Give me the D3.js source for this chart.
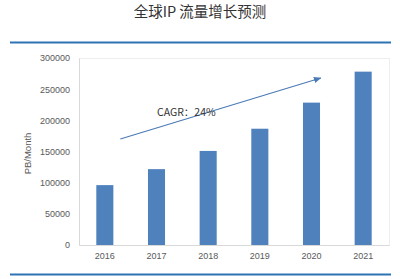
<!DOCTYPE html>
<html><head><meta charset="utf-8">
<script src="https://cdn.jsdelivr.net/npm/d3@7/dist/d3.min.js"></script>
<style>html,body{margin:0;padding:0;background:#fff;}svg{display:block;}</style>
</head><body>
<svg id="c" width="400" height="279"></svg>
<script>
const years = ["2016","2017","2018","2019","2020","2021"];
const traffic = [96054,121694,150910,186550,228411,278108];
const yTicks = [0,50000,100000,150000,200000,250000,300000];
const title = "全球IP 流量增长预测";
const yTitle = "PB/Month";
const cagrLabel = "CAGR：24%";
const arrowFrom = [0.8,170000];
const arrowTo = [4.68,268000];

const svg = d3.select("#c");
const L = 79, R = 389, T = 58, B = 245;
const x = d3.scaleBand().domain(years).range([L,R]).paddingInner(0.67).paddingOuter(0.335);
const xc = d3.scaleLinear().domain([0,years.length]).range([L,R]);
const y = d3.scaleLinear().domain([0,300000]).range([B,T]);

const font = "'Liberation Sans', Arial, sans-serif";

svg.append("text").attr("x",200).attr("y",17).attr("text-anchor","middle")
  .attr("font-family","'Noto Sans CJK SC', sans-serif").attr("font-size",14.5).attr("fill","#333")
  .text(title);

svg.append("line").attr("x1",10).attr("x2",391).attr("y1",42.5).attr("y2",42.5)
  .attr("stroke","#2e74b5").attr("stroke-width",2);
svg.append("line").attr("x1",10).attr("x2",391).attr("y1",274.5).attr("y2",274.5)
  .attr("stroke","#2e74b5").attr("stroke-width",2);

// plot border
svg.append("rect").attr("x",L+0.5).attr("y",T+0.5).attr("width",R-L).attr("height",B-T)
  .attr("fill","none").attr("stroke","#eeeeee");

// y axis
const ya = svg.append("g").attr("transform",`translate(${L},0)`)
  .call(d3.axisLeft(y).tickValues(yTicks).tickSize(0).tickPadding(9).tickFormat(d3.format("d")));
ya.select(".domain").attr("stroke","#d9d9d9");
ya.selectAll("text").attr("font-family",font).attr("font-size",9).attr("fill","#595959");

// x axis
const xa = svg.append("g").attr("transform",`translate(0,${B})`)
  .call(d3.axisBottom(x).tickSize(0).tickPadding(8));
xa.select(".domain").attr("stroke","#d9d9d9");
xa.selectAll("text").attr("font-family",font).attr("font-size",9).attr("fill","#595959");

// bars
svg.selectAll("rect.bar").data(years).enter().append("rect").attr("class","bar")
  .attr("x",d=>x(d)).attr("width",x.bandwidth())
  .attr("y",(d,i)=>y(traffic[i])).attr("height",(d,i)=>B-y(traffic[i]))
  .attr("fill","#4f81bd");

// y title
svg.append("text").attr("transform",`translate(31,${(T+B)/2+2}) rotate(-90)`)
  .attr("text-anchor","middle").attr("font-family",font).attr("font-size",9.5).attr("fill","#595959")
  .text(yTitle);

// arrow
const defs = svg.append("defs");
defs.append("marker").attr("id","ah").attr("viewBox","0 0 10 10").attr("refX",9).attr("refY",5)
  .attr("markerWidth",7).attr("markerHeight",7).attr("orient","auto")
  .append("path").attr("d","M0,1 L10,5 L0,9 Z").attr("fill","#4a7ab5");
svg.append("line")
  .attr("x1",xc(arrowFrom[0])).attr("y1",y(arrowFrom[1]))
  .attr("x2",xc(arrowTo[0])).attr("y2",y(arrowTo[1]))
  .attr("stroke","#4a7ab5").attr("stroke-width",1.1).attr("marker-end","url(#ah)");

svg.append("text").attr("x",157).attr("y",116).attr("font-family","'Noto Sans CJK SC', "+font)
  .attr("font-size",10.5).attr("fill","#333").text(cagrLabel);
</script>
</body></html>
